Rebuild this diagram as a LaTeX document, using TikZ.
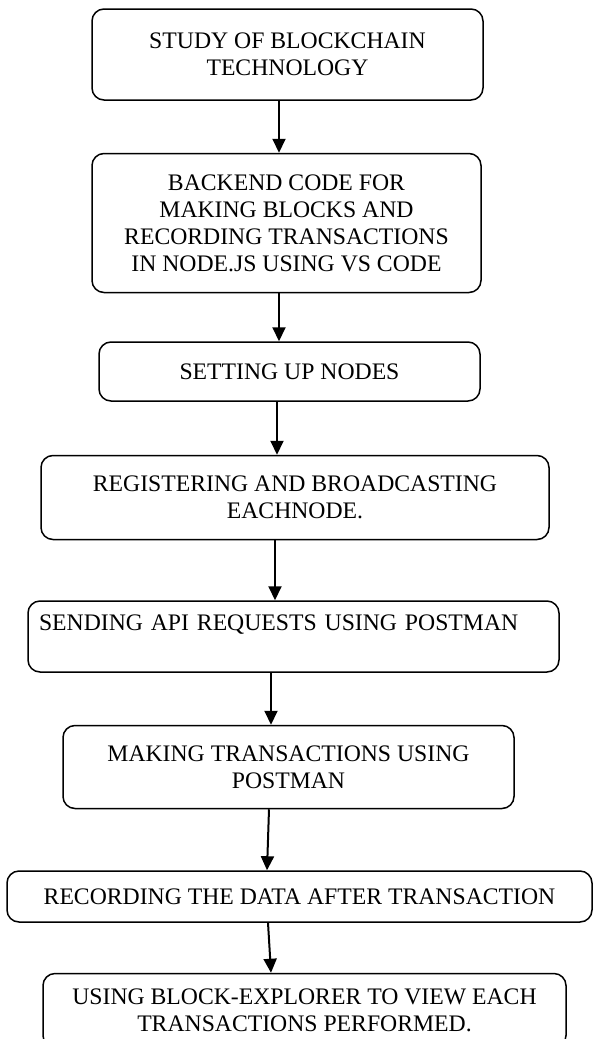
\documentclass[tikz,border=0pt]{standalone}
\usepackage{fontspec}
\setmainfont{Liberation Serif}
\usetikzlibrary{arrows.meta,positioning}

\begin{document}
\begin{tikzpicture}[
        node distance=50pt,
        box/.style={draw,line width=1.5pt,rounded corners=12pt,align=center,inner sep=6pt,
          font=\fontsize{23.7}{27}\selectfont},
        arr/.style={-{Triangle[length=14pt,width=13pt]},line width=2pt}
      ]
      \useasboundingbox (0,0) rectangle (594pt,-1039pt);

      \node[box,minimum width=391pt,minimum height=91pt] (study) at (287.5pt,-54.5pt)
      {STUDY OF BLOCKCHAIN\\TECHNOLOGY};

      \node[box,below=52pt of study,xshift=-1pt,minimum width=389pt,minimum height=139pt] (backend)
      {BACKEND CODE FOR\\MAKING BLOCKS AND\\RECORDING TRANSACTIONS\\IN NODE.JS USING VS CODE};

      \node[box,below=48pt of backend,xshift=3pt,minimum width=381pt,minimum height=59pt] (setup)
      {SETTING UP NODES};

      \node[box,below=53pt of setup,xshift=5.5pt,minimum width=508pt,minimum height=84pt] (register)
      {REGISTERING AND BROADCASTING\\EACHNODE.};

      \node[box,below=60pt of register,xshift=-1.5pt,minimum width=531pt,minimum height=71pt,
        align=left,text width=509pt] (api)
      {SENDING API REQUESTS USING POSTMAN\\\mbox{}};

      \node[box,below=52pt of api,xshift=-5pt,minimum width=451pt,minimum height=83pt] (making)
      {MAKING TRANSACTIONS USING\\POSTMAN};

      \node[box,below=61pt of making,xshift=11pt,minimum width=585pt,minimum height=51pt] (record)
      {RECORDING THE DATA AFTER TRANSACTION};

      \node[box,below=50pt of record,xshift=5pt,minimum width=523pt,minimum height=74pt] (explorer)
      {USING BLOCK-EXPLORER TO VIEW EACH\\TRANSACTIONS PERFORMED.};

      \draw[arr] ([xshift=-8.5pt]study.south) -- ([xshift=-7.5pt]backend.north);
      \draw[arr] ([xshift=-7.5pt]backend.south) -- ([xshift=-10.5pt]setup.north);
      \draw[arr] ([xshift=-12.5pt]setup.south) -- ([xshift=-18pt]register.north);
      \draw[arr] ([xshift=-20pt]register.south) -- ([xshift=-18.5pt]api.north);
      \draw[arr] ([xshift=-22.5pt]api.south) -- ([xshift=-17.5pt]making.north);
      \draw[arr] ([xshift=-19.5pt]making.south) -- ([xshift=-32.5pt]record.north);
      \draw[arr] ([xshift=-31.5pt]record.south) -- ([xshift=-33.5pt]explorer.north);
    \end{tikzpicture}
\end{document}
